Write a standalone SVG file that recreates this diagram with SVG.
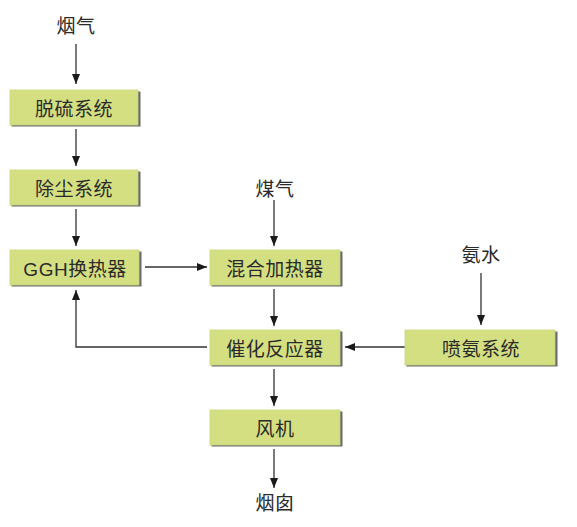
<svg xmlns="http://www.w3.org/2000/svg" width="577" height="527" viewBox="0 0 577 527">
<defs>
<style>
.box{fill:#d4df82;stroke:#c9d47a;stroke-width:0.8}
.sh{fill:#6a6a6a}
.t{font-family:"Liberation Sans","Noto Sans CJK SC",sans-serif;font-size:19px;fill:#2a2a2a;text-anchor:middle;dominant-baseline:central;letter-spacing:0.5px}
.c{fill:none;stroke:#333;stroke-width:1.3}
</style>
<marker id="ah" markerWidth="10" markerHeight="10" viewBox="0 0 10 10" refX="10" refY="5" orient="auto" markerUnits="userSpaceOnUse">
<path d="M0,1 L10,5 L0,9 Z" fill="#1a1a1a"/>
</marker>
</defs>
<rect width="577" height="527" fill="#fff"/>
<g id="connectors">
<line class="c" x1="76" y1="44" x2="76" y2="84" marker-end="url(#ah)"/>
<line class="c" x1="76" y1="129" x2="76" y2="166" marker-end="url(#ah)"/>
<line class="c" x1="76" y1="209" x2="76" y2="246" marker-end="url(#ah)"/>
<line class="c" x1="145" y1="267" x2="207" y2="267" marker-end="url(#ah)"/>
<line class="c" x1="274" y1="200" x2="274" y2="246" marker-end="url(#ah)"/>
<line class="c" x1="274" y1="289" x2="274" y2="326" marker-end="url(#ah)"/>
<line class="c" x1="481" y1="273" x2="481" y2="325" marker-end="url(#ah)"/>
<line class="c" x1="405" y1="347" x2="345" y2="347" marker-end="url(#ah)"/>
<polyline class="c" points="207,347 76,347 76,290" marker-end="url(#ah)"/>
<line class="c" x1="274" y1="369" x2="274" y2="406" marker-end="url(#ah)"/>
<line class="c" x1="274" y1="449" x2="274" y2="488" marker-end="url(#ah)"/>
</g>
<text class="t" x="76" y="26">烟气</text>
<text class="t" x="275" y="189">煤气</text>
<text class="t" x="481" y="255">氨水</text>
<text class="t" x="275" y="503">烟囱</text>
<g id="n1"><rect class="sh" x="11.5" y="91.5" width="129" height="35"/><rect class="box" x="10" y="90" width="128" height="35"/><text class="t" x="74" y="109">脱硫系统</text></g>
<g id="n2"><rect class="sh" x="11.5" y="171.5" width="129" height="35"/><rect class="box" x="10" y="170" width="128" height="35"/><text class="t" x="74" y="189">除尘系统</text></g>
<g id="n3"><rect class="sh" x="11.5" y="251.5" width="130" height="35"/><rect class="box" x="10" y="250" width="129" height="35"/><text class="t" x="75" y="269">GGH换热器</text></g>
<g id="n4"><rect class="sh" x="211.5" y="251.5" width="131" height="35"/><rect class="box" x="210" y="250" width="130" height="35"/><text class="t" x="275" y="269">混合加热器</text></g>
<g id="n5"><rect class="sh" x="211.5" y="331.5" width="131" height="35"/><rect class="box" x="210" y="330" width="130" height="35"/><text class="t" x="275" y="349">催化反应器</text></g>
<g id="n6"><rect class="sh" x="406.5" y="331.5" width="151" height="35"/><rect class="box" x="405" y="330" width="150" height="35"/><text class="t" x="481" y="349">喷氨系统</text></g>
<g id="n7"><rect class="sh" x="211.5" y="411.5" width="131" height="35"/><rect class="box" x="210" y="410" width="130" height="35"/><text class="t" x="275" y="429">风机</text></g>
</svg>
